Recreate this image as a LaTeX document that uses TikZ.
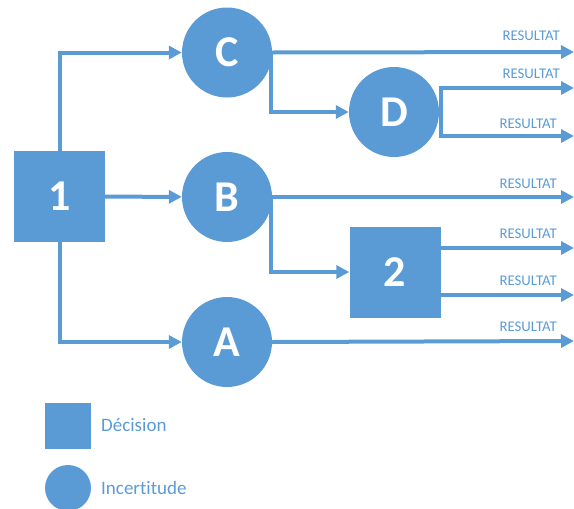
\documentclass[tikz,border=0pt]{standalone}
\usepackage{fontspec}
\setmainfont{Carlito}[Ligatures={NoCommon}]
\usetikzlibrary{arrows.meta}
\definecolor{obl}{HTML}{5B9BD5}
\tikzset{
  decbox/.style={draw=none,fill=obl,minimum size=91pt,inner sep=0pt,text=white,font=\fontsize{44}{44}\selectfont\bfseries},
  chance/.style={circle,draw=none,fill=obl,minimum size=90pt,inner sep=0pt,text=white,font=\fontsize{44}{44}\selectfont\bfseries},
  arr/.style={draw=obl,line width=4pt,-{Triangle[length=13pt,width=13pt]}},
  res/.style={anchor=east,text=obl,inner sep=0pt,font=\fontsize{14.8}{15}\selectfont},
  legtxt/.style={anchor=west,text=obl,inner sep=0pt,font=\fontsize{19}{20}\selectfont}
}
\begin{document}
\begin{tikzpicture}[x=1pt,y=-1pt]
\useasboundingbox (0,0) rectangle (574,509);
\node[decbox] (n1) at (59.5,196.5) {1};
\node[chance] (C) at (227,52.5) {C};
\node[chance] (B) at (227,197) {B};
\node[chance] (A) at (227,342) {A};
\node[chance] (D) at (394,112) {D};
\node[decbox] (n2) at (395,272) {2};
\coordinate (rC) at (574,52);
\coordinate (rD1) at (574,88);
\coordinate (rD2) at (574,136);
\coordinate (rB) at (574,197);
\coordinate (r21) at (574,248);
\coordinate (r22) at (574,295);
\coordinate (rA) at (574,341);
\draw[arr] (n1) |- (C);
\draw[arr] (n1) -- (B);
\draw[arr] (n1) |- (A);
\draw[arr] (C.east) -- (rC);
\draw[arr] ([xshift=-1pt]C.east) |- (D);
\draw[arr] ([xshift=2pt]D.east) |- (rD1);
\draw[arr] ([xshift=2pt]D.east) |- (rD2);
\draw[arr] (B.east) -- (rB);
\draw[arr] ([xshift=-1pt]B.east) |- (n2);
\draw[arr] (n2.east |- r21) -- (r21);
\draw[arr] (n2.east |- r22) -- (r22);
\draw[arr] (A.east) -- (rA);
\node[res] (l1) at (560,36) {RESULTAT};
\node[res] (l2) at (560,74) {RESULTAT};
\node[res] (l3) at (557,124) {RESULTAT};
\node[res] (l4) at (557,184) {RESULTAT};
\node[res] (l5) at (557,234) {RESULTAT};
\node[res] (l6) at (557,281) {RESULTAT};
\node[res] (l7) at (557,327) {RESULTAT};
\node[fill=obl,minimum size=46pt,inner sep=0pt] (legD) at (68,425.5) {};
\node[circle,fill=obl,minimum size=46pt,inner sep=0pt] (legI) at (68,488) {};
\node[legtxt] (tD) at (101,425.5) {Décision};
\node[legtxt] (tI) at (101,488) {Incertitude};
\end{tikzpicture}
\end{document}
